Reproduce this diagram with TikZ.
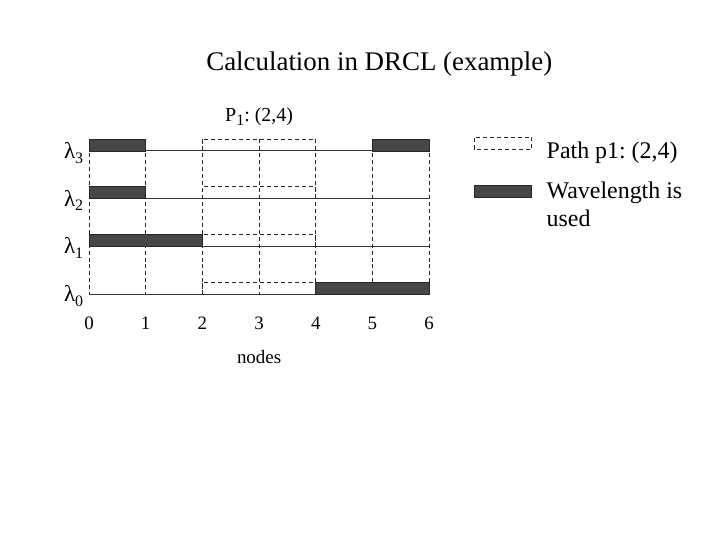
\documentclass[tikz,border=0pt]{standalone}
\usepackage{fontspec}
\setmainfont{Liberation Serif}
\frenchspacing
\newcommand{\lowsub}[1]{\raisebox{-0.45ex}{\fontsize{16}{18}\selectfont #1}}

\begin{document}
\begin{tikzpicture}[
        x = 2cm,
        y = 1.683cm,
        font = \fontsize{19}{22}\selectfont,
        rowline/.style = {black!80, line width = 0.9pt},
        gridline/.style = {black!85, line width = 0.75pt, dash pattern = on 4pt off 3pt},
        usedbox/.style = {draw = black!85, fill = black!72, line width = 0.6pt},
        pathbox/.style = {black!85, line width = 0.85pt, dash pattern = on 4pt off 3pt},
      ]
      \useasboundingbox (-3.14cm,-8.678cm) rectangle (22.26cm,10.372cm);

      \node[font = \fontsize{27}{30}\selectfont] (title) at (5.12,4.82)
        {Calculation in DRCL (example)};

      % the four wavelengths
      \foreach \r in {0,1,2,3} {
        \draw[rowline] (0,\r) -- (6,\r);
        \node[
          anchor = base east,
          inner sep = 0,
          font = \fontsize{23}{26}\selectfont,
        ] (lambda\r) at (-0.1,\r-0.16) {λ\lowsub{\r}};
      }

      % the nodes 0..6
      \foreach \x in {0,...,6} {
        \draw[gridline] (\x,3.25) -- (\x,0);
        \node (tick\x) at (\x,-0.62) {\x};
      }
      \node (nodes) at (3,-1.32) {nodes};

      % wavelengths that are already used
      \foreach \a/\b/\r in {
        0/1/3,
        5/6/3,
        0/1/2,
        0/2/1,
        4/6/0
      } {
        \draw[usedbox] (\a,\r) rectangle (\b,\r+0.25);
      }

      % path p1 from node 2 to node 4
      \foreach \r in {0,1,2,3} {
        \draw[pathbox] (2,\r) -- (2,\r+0.25) -- (4,\r+0.25) -- (4,\r);
      }
      \node[font = \fontsize{20}{22}\selectfont] (pone) at (3,3.71)
        {P\lowsub{1}: (2,4)};

      % legend
      \draw[pathbox, line width = 0.6pt] (6.79,3.04) rectangle (7.81,3.29);
      \node[
        anchor = west,
        inner sep = 0,
        font = \fontsize{24}{28}\selectfont,
      ] (legpath) at (8.07,2.96) {Path p1: (2,4)};
      \draw[usedbox] (6.79,2.03) rectangle (7.81,2.28);
      \node[
        anchor = north west,
        inner sep = 0,
        align = left,
        font = \fontsize{24}{28.5}\selectfont,
      ] (legused) at (8.07,2.36) {Wavelength is\\used};

    \end{tikzpicture}
\end{document}
